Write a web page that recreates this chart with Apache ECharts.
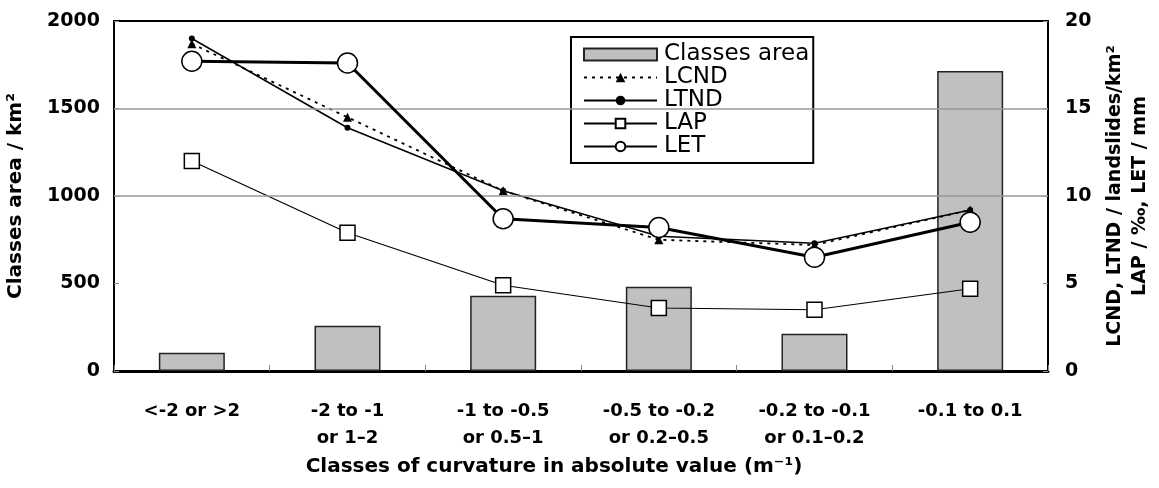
<!DOCTYPE html>
<html>
<head>
<meta charset="utf-8">
<script src="https://cdn.jsdelivr.net/npm/echarts@6/dist/echarts.min.js"></script>
<style>
  html, body { margin: 0; padding: 0; background: #fff; }
  #chart { width: 1159px; height: 488px; }
</style>
</head>
<body>
<div id="chart"></div>
<script>
// curvature classes
const categories = [
  "<-2 or >2",
  "-2 to -1\nor 1\u20132",
  "-1 to -0.5\nor 0.5\u20131",
  "-0.5 to -0.2\nor 0.2\u20130.5",
  "-0.2 to -0.1\nor 0.1\u20130.2",
  "-0.1 to 0.1"
];
// left axis, km²
const classesArea = [105, 258, 430, 482, 213, 1714];
// right axis
const lcnd = [18.7, 14.5, 10.3, 7.5, 7.2, 9.2];
const ltnd = [19.0, 13.9, 10.3, 7.7, 7.3, 9.2];
const lap = [12.0, 7.9, 4.9, 3.6, 3.5, 4.7];
const letVals = [17.7, 17.6, 8.7, 8.2, 6.5, 8.5];
// gray reference lines on the left axis
const gridValues = [1000, 1500];

const font = "DejaVu Sans, sans-serif";
let chart = echarts.init(document.getElementById("chart"));
chart.setOption({
  animation: false,
  textStyle: { fontFamily: font },
  grid: {
    left: 114,
    right: 111,
    top: 21,
    bottom: 117,
    outerBoundsMode: "none",
    show: true,
    borderColor: "#000",
    borderWidth: 2
  },
  legend: {
    left: 571,
    top: 37,
    orient: "vertical",
    backgroundColor: "#fff",
    borderColor: "#000",
    borderWidth: 2,
    padding: [6, 4, 5, 12],
    itemGap: 0,
    itemWidth: 73,
    itemHeight: 12,
    textStyle: { fontSize: 23, color: "#000", fontFamily: font, lineHeight: 22, padding: [0, 0, 0, 2] },
    data: [
      { name: "Classes area", icon: "rect" },
      "LCND", "LTND", "LAP", "LET"
    ]
  },
  xAxis: {
    type: "category",
    data: categories,
    name: "Classes of curvature in absolute value (m\u207B\u00B9)",
    nameLocation: "middle",
    nameGap: 86,
    nameTextStyle: { fontSize: 20, fontWeight: "bold", color: "#000", padding: [0, 54, 0, 0] },
    axisLine: { lineStyle: { color: "#000", width: 3 } },
    axisTick: { show: true, inside: true, length: 6, lineStyle: { color: "#888" } },
    axisLabel: {
      fontSize: 18,
      fontWeight: "bold",
      color: "#000",
      margin: 27,
      lineHeight: 27
    }
  },
  yAxis: [
    {
      type: "value",
      min: 0,
      max: 2000,
      interval: 500,
      name: "Classes area / km\u00B2",
      nameLocation: "middle",
      nameGap: 88,
      nameRotate: 90,
      nameTextStyle: { fontSize: 20, fontWeight: "bold", color: "#000" },
      axisLine: { show: true, lineStyle: { color: "#000", width: 2 } },
      axisTick: { show: true, inside: true, length: 5, lineStyle: { color: "#888" } },
      splitLine: { show: false },
      axisLabel: { fontSize: 19, fontWeight: "bold", color: "#000", margin: 14, formatter: v => String(v) }
    },
    {
      type: "value",
      min: 0,
      max: 20,
      interval: 5,
      name: "LCND, LTND / landslides/km\u00B2\nLAP / \u2030, LET / mm",
      nameLocation: "middle",
      nameGap: 55,
      nameRotate: 90,
      nameTextStyle: { fontSize: 19, fontWeight: "bold", color: "#000", lineHeight: 25 },
      axisLine: { show: true, lineStyle: { color: "#000", width: 2 } },
      axisTick: { show: true, inside: true, length: 5, lineStyle: { color: "#888" } },
      splitLine: { show: false },
      axisLabel: { fontSize: 19, fontWeight: "bold", color: "#000", margin: 17 }
    }
  ],
  series: [
    {
      name: "Classes area",
      type: "bar",
      yAxisIndex: 0,
      data: classesArea,
      barWidth: 66,
      itemStyle: { color: "#c0c0c0", borderColor: "#222", borderWidth: 1.5 },
      markLine: {
        silent: true,
        symbol: "none",
        label: { show: false },
        lineStyle: { color: "#999", width: 1.5, type: "solid" },
        data: gridValues.map(v => ({ yAxis: v }))
      },
      z: 1
    },
    {
      name: "LCND",
      type: "line",
      yAxisIndex: 1,
      data: lcnd,
      symbol: "triangle",
      symbolSize: 9,
      itemStyle: { color: "#000" },
      lineStyle: { color: "#000", width: 1.8, type: [3, 5] },
      z: 3
    },
    {
      name: "LTND",
      type: "line",
      yAxisIndex: 1,
      data: ltnd,
      symbol: "circle",
      symbolSize: 6,
      itemStyle: { color: "#000" },
      lineStyle: { color: "#000", width: 1.5 },
      z: 3
    },
    {
      name: "LAP",
      type: "line",
      yAxisIndex: 1,
      data: lap,
      symbol: "rect",
      symbolSize: 15,
      itemStyle: { color: "#fff", borderColor: "#000", borderWidth: 1.5 },
      lineStyle: { color: "#000", width: 1.2 },
      z: 4
    },
    {
      name: "LET",
      type: "line",
      yAxisIndex: 1,
      data: letVals,
      symbol: "circle",
      symbolSize: 20,
      itemStyle: { color: "#fff", borderColor: "#000", borderWidth: 1.5 },
      lineStyle: { color: "#000", width: 3 },
      z: 5
    }
  ]
});
</script>
</body>
</html>
